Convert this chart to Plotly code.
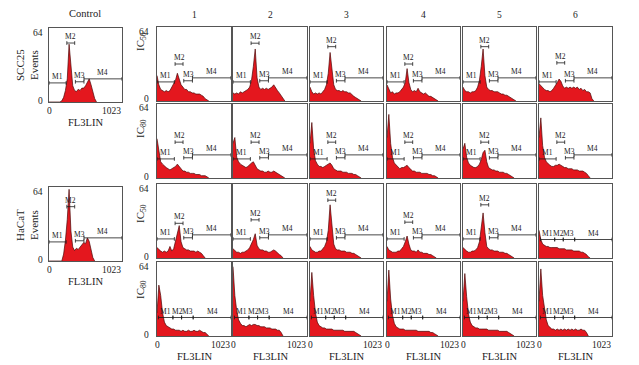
import plotly.graph_objects as go

W, H = 639, 365
BIN = 25.6  # channels per histogram point on the 0..1023 FL3LIN axis

# ---------------- data (events per channel bin) -------------
ctrl_scc25 = [0, 0, 0, 0, 0, 0, 0, 1, 4, 10, 20, 50, 28, 14, 10, 9, 11, 10, 12, 12, 14, 17, 20, 15, 9, 3, 0]
ctrl_hacat = [0, 0, 0, 0, 0, 0, 0, 0, 6, 18, 36, 62, 26, 12, 9, 11, 10, 12, 13, 16, 15, 20, 17, 10, 3, 0]

scc25_ic50 = [
    [22, 14, 10, 9, 8, 9, 8, 9, 12, 16, 18, 24, 19, 14, 12, 10, 10, 8, 8, 7, 7, 6, 6, 6, 5, 4, 2, 1, 0],
    [7, 6, 7, 6, 8, 7, 8, 9, 10, 12, 18, 30, 45, 20, 12, 10, 11, 10, 11, 10, 11, 12, 14, 11, 9, 7, 5, 3, 0],
    [12, 8, 6, 7, 6, 7, 6, 8, 10, 14, 24, 42, 28, 14, 10, 9, 9, 8, 9, 8, 8, 7, 7, 5, 4, 3, 2, 1, 0],
    [14, 10, 7, 8, 6, 7, 7, 8, 10, 12, 16, 28, 16, 10, 8, 9, 8, 11, 8, 7, 6, 7, 5, 4, 4, 3, 2, 1, 0],
    [12, 9, 8, 8, 7, 8, 8, 9, 12, 18, 30, 45, 22, 12, 10, 9, 9, 8, 8, 8, 7, 6, 6, 5, 5, 4, 3, 2, 1, 0],
    [15, 13, 11, 10, 9, 9, 8, 9, 11, 13, 16, 19, 17, 13, 11, 12, 11, 12, 11, 12, 11, 12, 10, 11, 9, 10, 8, 8, 7, 2, 0],
]
scc25_ic80 = [
    [34, 22, 14, 12, 10, 9, 8, 7, 8, 9, 10, 12, 10, 7, 6, 6, 5, 5, 4, 4, 4, 3, 3, 3, 2, 2, 2, 1, 0],
    [30, 35, 18, 14, 12, 11, 10, 9, 10, 12, 13, 14, 11, 8, 7, 6, 6, 5, 5, 6, 5, 5, 6, 5, 4, 3, 2, 1, 0],
    [30, 48, 25, 15, 12, 10, 10, 9, 10, 11, 12, 13, 11, 8, 7, 6, 6, 6, 5, 5, 5, 4, 4, 4, 3, 3, 2, 1, 0],
    [35, 55, 30, 18, 13, 11, 9, 8, 9, 9, 10, 11, 9, 7, 6, 6, 5, 5, 5, 4, 4, 4, 4, 3, 3, 2, 2, 1, 0],
    [25, 30, 18, 13, 11, 10, 9, 9, 10, 12, 16, 22, 24, 14, 9, 8, 7, 7, 6, 6, 5, 5, 5, 4, 4, 3, 2, 1, 0],
    [35, 52, 28, 18, 14, 12, 11, 10, 10, 11, 11, 12, 11, 10, 9, 9, 8, 8, 8, 7, 7, 7, 6, 6, 6, 5, 4, 2, 0],
]
hacat_ic50 = [
    [9, 7, 6, 5, 6, 5, 6, 10, 6, 8, 14, 20, 28, 14, 9, 8, 7, 7, 6, 6, 6, 5, 6, 5, 4, 2, 0],
    [8, 6, 5, 5, 4, 5, 5, 6, 7, 9, 12, 16, 21, 11, 8, 7, 7, 6, 6, 5, 5, 6, 7, 6, 4, 3, 2, 0],
    [10, 7, 6, 5, 5, 6, 6, 8, 10, 14, 24, 46, 30, 12, 8, 7, 7, 6, 6, 6, 5, 5, 5, 4, 4, 3, 2, 1, 0],
    [10, 7, 6, 5, 5, 5, 6, 6, 8, 10, 14, 19, 12, 7, 6, 6, 5, 7, 5, 5, 4, 4, 4, 3, 3, 2, 1, 0],
    [9, 7, 6, 5, 5, 6, 6, 7, 9, 14, 26, 39, 22, 10, 8, 7, 7, 6, 6, 6, 5, 5, 5, 4, 4, 3, 2, 1, 0],
    [24, 16, 12, 11, 10, 10, 9, 9, 9, 9, 9, 8, 8, 8, 8, 7, 7, 7, 7, 6, 6, 6, 6, 5, 5, 4, 3, 1, 0],
]
hacat_ic80 = [
    [20, 44, 35, 20, 12, 9, 8, 7, 6, 6, 5, 5, 5, 4, 5, 4, 4, 5, 4, 4, 5, 4, 4, 5, 4, 3, 3, 1, 0],
    [60, 35, 22, 14, 11, 9, 9, 8, 9, 10, 9, 10, 10, 9, 9, 8, 8, 8, 7, 7, 7, 6, 6, 6, 5, 5, 3, 0],
    [30, 55, 35, 20, 12, 9, 8, 7, 7, 6, 6, 6, 6, 5, 5, 5, 5, 5, 5, 4, 4, 4, 4, 4, 4, 3, 2, 1, 0],
    [30, 57, 32, 18, 11, 8, 7, 6, 6, 6, 5, 5, 5, 5, 5, 5, 5, 4, 4, 4, 4, 4, 4, 4, 3, 3, 2, 1, 0],
    [30, 54, 34, 19, 12, 9, 8, 7, 7, 6, 6, 6, 6, 6, 5, 5, 5, 5, 5, 5, 4, 4, 4, 4, 4, 3, 2, 1, 0],
    [30, 58, 35, 24, 14, 9, 7, 6, 6, 5, 6, 5, 6, 5, 6, 5, 6, 5, 6, 5, 6, 5, 5, 6, 5, 5, 3, 0],
]

col_labels = ["1", "2", "3", "4", "5", "6"]
row_labels = ["IC<sub>50</sub>", "IC<sub>80</sub>", "IC<sub>50</sub>", "IC<sub>80</sub>"]
ctrl_labels = ["SCC25<br>Events", "HaCaT<br>Events"]
y_ticks = ["64", "0"]
x_ticks = ["0", "1023"]
x_title = "FL3LIN"

marker_names = ["M1", "M2", "M3", "M4"]
# gate ranges (channels) and line heights (events)
markers_a = [(0, 240), (250, 360), (370, 490), (490, 1023)]
markers_a_h = [16.5, None, 17.5, 20]
markers_b = [(20, 220), (220, 340), (340, 500), (500, 1023)]
markers_b_h = [16, 16, 16, 16]

ctrl_m2 = [51, 47]
m2_heights = [
    [32, 50, 47, 32, 47, 33],
    [31, 31, 31, 31, 31, 31],
    [30, 33, 50, 31, 46, None],
    [None, None, None, None, None, None],
]

rows = [scc25_ic50, scc25_ic80, hacat_ic50, hacat_ic80]

# ---------------- layout geometry (pixels) ----------------
ctrl_x = (49, 122)
ctrl_y = [(28, 102), (187, 261)]
col_x = [(157, 231), (233, 307), (310, 383), (387, 460), (463, 536), (539, 612)]
row_y = [(27, 101), (104, 178), (184, 258), (262, 336)]

FONT = "Liberation Serif, Times New Roman, serif"
RED = "#e4171e"
EDGE = "#4a0808"
INK = "#1a1a1a"

fig = go.Figure()
annotations = []
layout = {}


def px(x):
    return x / W


def py(y):
    return 1 - y / H


def note(x, y, text, size, xanchor="center", yanchor="middle", angle=0):
    annotations.append(dict(x=px(x), y=py(y), xref="paper", yref="paper", text=text, showarrow=False,
                            xanchor=xanchor, yanchor=yanchor, textangle=angle,
                            font=dict(family=FONT, size=size, color=INK)))


def add_panel(n, xr, yr, hist, mtype, m2h, show_y, show_x, ygap):
    sfx = "" if n == 1 else str(n)
    layout["xaxis" + sfx] = dict(domain=[px(xr[0]), px(xr[1])], anchor="y" + sfx, range=[0, 1023],
                                showgrid=False, zeroline=False, showticklabels=False, ticks="",
                                showline=True, mirror=True, linecolor="#555555", linewidth=1,
                                fixedrange=True)
    layout["yaxis" + sfx] = dict(domain=[py(yr[1]), py(yr[0])], anchor="x" + sfx, range=[0, 64],
                                showgrid=False, zeroline=False, showticklabels=False, ticks="",
                                showline=True, mirror=True, linecolor="#555555", linewidth=1,
                                fixedrange=True)
    xs = [i * BIN for i in range(len(hist))]
    fig.add_trace(go.Scatter(x=xs, y=hist, mode="lines", fill="tozeroy", fillcolor=RED,
                             line=dict(color=EDGE, width=0.7), xaxis="x" + sfx, yaxis="y" + sfx,
                             hoverinfo="skip", showlegend=False))
    if mtype == "a":
        ranges = markers_a
        hs = [markers_a_h[0], m2h, markers_a_h[2], markers_a_h[3]]
    else:
        ranges = markers_b
        hs = markers_b_h
    mx, my = [], []
    for (a, b), h, name in zip(ranges, hs, marker_names):
        mx += [a, b, None, a, a, None, b, b, None]
        my += [h, h, None, h - 1.6, h + 1.6, None, h - 1.6, h + 1.6, None]
        annotations.append(dict(x=(a + b) / 2, y=h, xref="x" + sfx, yref="y" + sfx, text=name,
                                showarrow=False, xanchor="center", yanchor="bottom",
                                font=dict(family=FONT, size=7.5, color=INK)))
    fig.add_trace(go.Scatter(x=mx, y=my, mode="lines", line=dict(color=INK, width=0.8),
                             xaxis="x" + sfx, yaxis="y" + sfx, hoverinfo="skip", showlegend=False))
    if show_y:
        note(xr[0] - ygap, yr[0] + 4.5, y_ticks[0], 9.5, xanchor="right")
        note(xr[0] - ygap, yr[1] - 1.5, y_ticks[1], 9.5, xanchor="right")
    if show_x:
        note(xr[0], yr[1] + 2, x_ticks[0], 9.5, yanchor="top")
        note(xr[1] + 1, yr[1] + 2, x_ticks[1], 9.5, xanchor="right", yanchor="top")
        note((xr[0] + xr[1]) / 2, yr[1] + 13, x_title, 10.5, yanchor="top")


n = 1
add_panel(n, ctrl_x, ctrl_y[0], ctrl_scc25, "a", ctrl_m2[0], True, True, 4)
n += 1
add_panel(n, ctrl_x, ctrl_y[1], ctrl_hacat, "a", ctrl_m2[1], True, True, 4)
for r, row in enumerate(rows):
    for c, hist in enumerate(row):
        n += 1
        mtype = "b" if (r == 3 or (r == 2 and c == 5)) else "a"
        add_panel(n, col_x[c], row_y[r], hist, mtype, m2_heights[r][c], c == 0, r == 3, 6)

# titles
note(85, 14, "Control", 10.5)
for c, lab in enumerate(col_labels):
    note((col_x[c][0] + col_x[c][1]) / 2, 15, lab, 9.5)
ctrl_label_y = [65, 225]
for i, lab in enumerate(ctrl_labels):
    note(27, ctrl_label_y[i], lab, 11, angle=-90)
row_label_y = [42, 129, 214, 290]
for r, lab in enumerate(row_labels):
    note(141, row_label_y[r], lab, 11, angle=-90)

fig.update_layout(width=W, height=H, margin=dict(l=0, r=0, t=0, b=0), paper_bgcolor="white",
                  plot_bgcolor="white", showlegend=False, annotations=annotations, **layout)
fig.write_html("out.html", config={"displayModeBar": False, "staticPlot": True},
               post_script="document.body.style.margin='0';document.body.style.overflow='hidden';")
